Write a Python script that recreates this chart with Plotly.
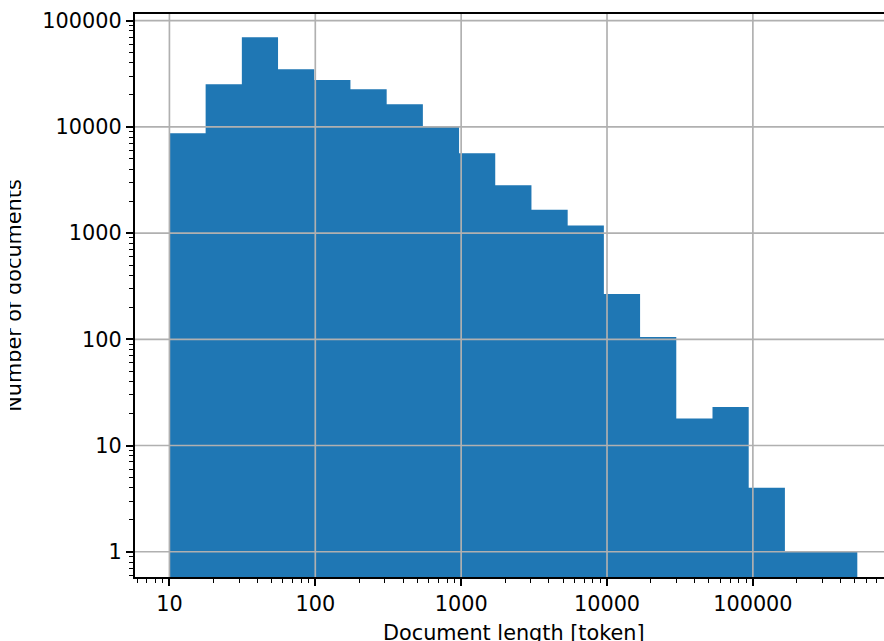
import plotly.graph_objects as go

# Log-spaced histogram bins (document length in tokens) and counts per bin
bin_edges = [10, 17.71, 31.37, 55.55, 98.4, 174.2, 308.6, 546.5, 967.6, 1713,
             3034, 5374, 9517, 16855, 29850, 52870, 93630, 165800, 293700, 520000]
doc_counts = [8700, 25200, 69800, 34900, 27700, 22600, 16300, 10200, 5640, 2820,
              1660, 1180, 267, 105, 18, 23, 4, 1, 1]

x_tick_vals = [10, 100, 1000, 10000, 100000]
x_tick_text = ["10", "100", "1000", "10000", "100000"]
y_tick_vals = [1, 10, 100, 1000, 10000, 100000]
y_tick_text = ["1", "10", "100", "1000", "10000", "100000"]

x_label = "Document length [token]"
y_label = "Number of documents"

W, H = 884, 641
PLOT_L, PLOT_T, PLOT_B = 135, 14, 577
BLUE = "#1f77b4"
GRID = "#b0b0b0"
FONT = "DejaVu Sans"
FS = 20.8

# minor tick positions: 2..9 times each power of ten
x_minor = [m * 10 ** p for p in range(0, 6) for m in range(2, 10)]
y_minor = [m * 10 ** p for p in range(-1, 6) for m in range(2, 10)]

# histogram outline as a closed step polygon
FLOOR = 1e-3
hx, hy = [bin_edges[0]], [FLOOR]
for lo, hi, c in zip(bin_edges[:-1], bin_edges[1:], doc_counts):
    hx += [lo, hi]
    hy += [c, c]
hx.append(bin_edges[-1])
hy.append(FLOOR)

fig = go.Figure()
fig.add_trace(go.Scatter(
    x=hx, y=hy, mode="lines", fill="toself", fillcolor=BLUE,
    line=dict(width=0, color=BLUE), hoverinfo="skip", showlegend=False,
))

# grid drawn on top of the bars
gx, gy = [], []
for v in x_tick_vals:
    gx += [v, v, None]
    gy += [1e-3, 1e7, None]
fig.add_trace(go.Scatter(x=gx, y=gy, mode="lines", line=dict(color=GRID, width=1.67),
                         hoverinfo="skip", showlegend=False))
gx, gy = [], []
for v in y_tick_vals:
    gx += [1, 1e7, None]
    gy += [v, v, None]
fig.add_trace(go.Scatter(x=gx, y=gy, mode="lines", line=dict(color=GRID, width=1.67),
                         hoverinfo="skip", showlegend=False))

# rotated y-axis label, clipped to a narrow strip at the left edge
fig.add_trace(go.Bar(
    x=[0], y=[1], width=10, xaxis="x2", yaxis="y2",
    marker=dict(color="rgba(0,0,0,0)", line=dict(width=0)),
    text=[y_label], textposition="inside", textangle=-90,
    insidetextanchor="middle", constraintext="none", cliponaxis=True,
    insidetextfont=dict(family=FONT, size=FS, color="black"),
    hoverinfo="skip", showlegend=False,
))

axis_common = dict(
    type="log", showgrid=False, zeroline=False,
    showline=True, linecolor="black", linewidth=1.67,
    ticks="outside", ticklen=7.3, tickwidth=1.67, tickcolor="black",
    tickmode="array", tickfont=dict(family=FONT, size=FS, color="black"),
)

fig.update_layout(
    width=W, height=H,
    margin=dict(l=0, r=0, t=PLOT_T, b=H - PLOT_B, pad=0),
    paper_bgcolor="white", plot_bgcolor="white",
    font=dict(family=FONT, size=FS, color="black"),
    xaxis=dict(
        **axis_common, domain=[PLOT_L / W, 1], range=[0.764, 5.899], mirror=True,
        tickvals=x_tick_vals, ticktext=x_tick_text,
        minor=dict(ticks="outside", ticklen=4.2, tickwidth=1.25, tickcolor="black",
                   tickmode="array", tickvals=x_minor, showgrid=False),
        anchor="y",
    ),
    yaxis=dict(
        **axis_common, domain=[0, 1], range=[-0.238, 5.063], mirror=False,
        tickvals=y_tick_vals, ticktext=y_tick_text,
        minor=dict(ticks="outside", ticklen=4.2, tickwidth=1.25, tickcolor="black",
                   tickmode="array", tickvals=y_minor, showgrid=False),
        anchor="x",
    ),
    xaxis2=dict(domain=[10 / W, 40 / W], range=[-3.6, 26.4], visible=False,
                anchor="y2", fixedrange=True),
    yaxis2=dict(domain=[0, 1], range=[0, 1], visible=False, anchor="x2",
                fixedrange=True),
    annotations=[dict(
        text=x_label, xref="paper", yref="paper", x=513.5 / W,
        y=-(618.6 - PLOT_B) / (PLOT_B - PLOT_T), xanchor="center", yanchor="top",
        showarrow=False, font=dict(family=FONT, size=FS, color="black"),
    )],
)

fig.write_html("out.html")
